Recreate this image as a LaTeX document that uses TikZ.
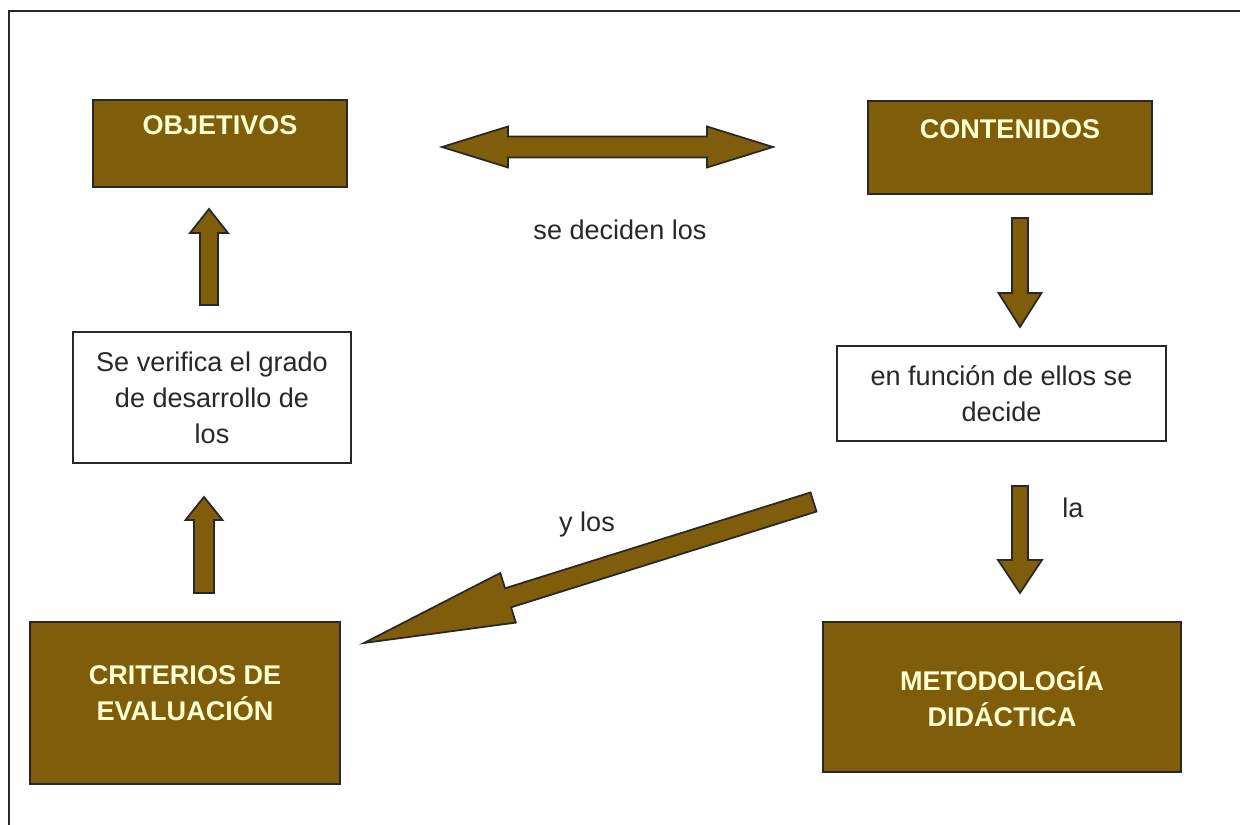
\documentclass[tikz,border=0pt]{standalone}
\usepackage{fontspec}
\setmainfont{Liberation Sans}
\usetikzlibrary{calc}
\definecolor{brownbox}{RGB}{127,93,10}
\definecolor{creamtext}{RGB}{255,255,210}
\definecolor{inkgray}{RGB}{40,40,40}

% block arrow: tail, tip, half shaft, half head, head length
\newcommand{\blockarrow}[5]{%
  \filldraw[arrowbody] ($(#1)!#3!90:(#2)$) -- ($(#2)!#5!(#1)!#3!-90:(#1)$)
    -- ($(#2)!#5!(#1)!#4!-90:(#1)$) -- (#2)
    -- ($(#2)!#5!(#1)!#4!90:(#1)$) -- ($(#2)!#5!(#1)!#3!90:(#1)$)
    -- ($(#1)!#3!-90:(#2)$) -- cycle;}
% two headed block arrow: tip, tip, half shaft, half head, head length
\newcommand{\twoblockarrow}[5]{%
  \filldraw[arrowbody] (#1) -- ($(#1)!#5!(#2)!#4!90:(#2)$) -- ($(#1)!#5!(#2)!#3!90:(#2)$)
    -- ($(#2)!#5!(#1)!#3!-90:(#1)$) -- ($(#2)!#5!(#1)!#4!-90:(#1)$) -- (#2)
    -- ($(#2)!#5!(#1)!#4!90:(#1)$) -- ($(#2)!#5!(#1)!#3!90:(#1)$)
    -- ($(#1)!#5!(#2)!#3!-90:(#2)$) -- ($(#1)!#5!(#2)!#4!-90:(#2)$) -- cycle;}

\begin{document}
\begin{tikzpicture}
\tikzstyle{every node}=[font=\fontsize{7.7}{10.25}\selectfont, text=inkgray]
\tikzstyle{darkbox}=[draw=inkgray, line width=0.5pt, fill=brownbox, text=creamtext, align=center, inner sep=0pt, font=\fontsize{7.7}{10.25}\selectfont\bfseries]
\tikzstyle{whitebox}=[draw=inkgray, line width=0.5pt, fill=white, align=center, inner sep=0pt]
\tikzstyle{arrowbody}=[draw=inkgray, line width=0.5pt, fill=brownbox, line join=miter]
\useasboundingbox (0,0) rectangle (12.40,8.25);
\draw[inkgray, line width=0.6pt](0.09,0)--(0.09,8.14)--(12.40,8.14);

% boxes
\node[darkbox, minimum width=2.54cm, minimum height=0.87cm] (obj) at (2.20,6.815) {OBJETIVOS\\ \mbox{}};
\node[darkbox, minimum width=2.84cm, minimum height=0.93cm] (cont) at (10.10,6.775) {CONTENIDOS\\ \mbox{}};
\node[whitebox, minimum width=2.78cm, minimum height=1.31cm] (verif) at (2.12,4.275) {Se verifica el grado\\de desarrollo de\\los};
\node[whitebox, minimum width=3.29cm, minimum height=0.95cm] (func) at (10.015,4.315) {en función de ellos se\\decide};
\node[darkbox, minimum width=3.10cm, minimum height=1.62cm] (crit) at (1.85,1.22) {CRITERIOS DE\\EVALUACIÓN\\[-0.17cm]\mbox{}};
\node[darkbox, minimum width=3.58cm, minimum height=1.50cm] (meto) at (10.02,1.28) {METODOLOGÍA\\DIDÁCTICA};

% labels
\node (sedec) at (6.20,5.95) {se deciden los};
\node (ylos) at (5.87,3.00) {y los};
\node (la) at (10.73,3.17) {la};

% arrow ends
\coordinate (verif-up0) at (2.09,5.20);
\coordinate (verif-up1) at (2.09,6.16);
\coordinate (crit-up0) at (2.04,2.32);
\coordinate (crit-up1) at (2.04,3.28);
\coordinate (cont-down0) at (10.20,6.07);
\coordinate (cont-down1) at (10.20,4.98);
\coordinate (func-down0) at (10.20,3.39);
\coordinate (func-down1) at (10.20,2.32);
\coordinate (obj-right) at (4.42,6.78);
\coordinate (cont-left) at (7.73,6.78);
\coordinate (func-diag0) at (8.135,3.23);
\coordinate (crit-diag1) at (3.64,1.82);

% arrows
\blockarrow{verif-up0}{verif-up1}{0.09cm}{0.19cm}{0.24cm}
\blockarrow{crit-up0}{crit-up1}{0.10cm}{0.185cm}{0.23cm}
\blockarrow{cont-down0}{cont-down1}{0.08cm}{0.215cm}{0.34cm}
\blockarrow{func-down0}{func-down1}{0.08cm}{0.22cm}{0.33cm}
\twoblockarrow{obj-right}{cont-left}{0.105cm}{0.205cm}{0.66cm}
\blockarrow{func-diag0}{crit-diag1}{0.10cm}{0.26cm}{1.51cm}
\end{tikzpicture}
\end{document}
